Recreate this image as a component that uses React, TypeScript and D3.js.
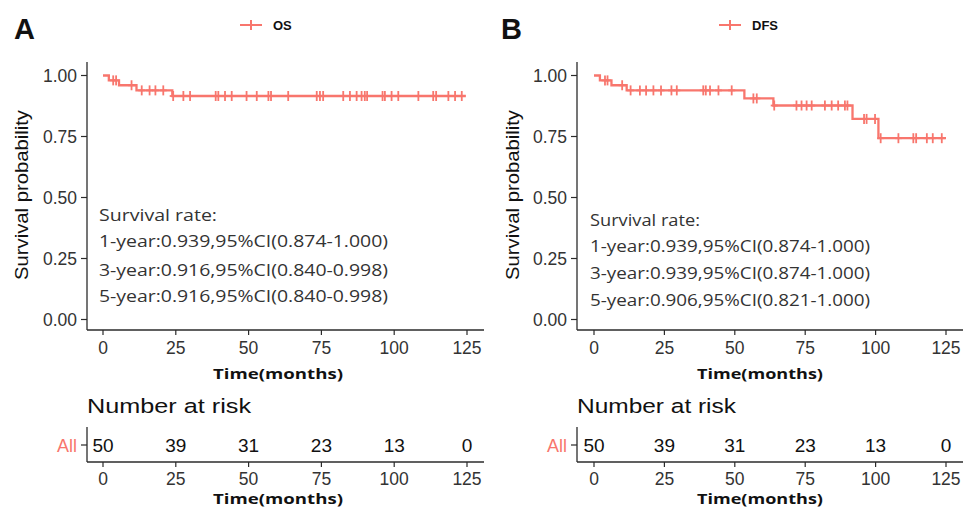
import React from "react";
import * as d3 from "d3";

// ---------- data ----------
const timeTicks = [0, 25, 50, 75, 100, 125];
const survTicks = [0, 0.25, 0.5, 0.75, 1];

const osEventTimes = [0, 2, 5.5, 11.5, 23.8];
const osSurvival = [1, 0.98, 0.96, 0.939, 0.916];
const osEndTime = 124.6;
const osCensorTimes = [
  3.5, 4.5, 9.8, 13.3, 16, 18, 20.7, 24.1, 27.6, 29.9, 38.7, 39.6, 41.9, 44.2, 49.3, 52.8,
  56.8, 57.7, 63.6, 73.4, 74.5, 75.6, 82.5, 84.8, 87.1, 88.8, 89.9, 90.7, 96, 96.8, 99.1,
  101.4, 108.3, 113.4, 114.4, 118.6, 120.9, 123.2,
];

const dfsEventTimes = [0, 2.1, 6.2, 11.6, 53.4, 63.7, 91.8, 101];
const dfsSurvival = [1, 0.98, 0.96, 0.939, 0.906, 0.877, 0.822, 0.743];
const dfsEndTime = 125;
const dfsCensorTimes = [
  3.9, 4.8, 10, 13, 16.3, 18.5, 21.1, 23.8, 27.5, 29.4, 38.8, 39.7, 41.2, 44.2, 48.9, 56.6,
  57.8, 64, 71.9, 73.7, 75.5, 77.3, 82, 84.4, 86.7, 89.1, 90, 95.9, 96.8, 99.8, 101.8, 108.1,
  113.4, 114.4, 118.2, 120.3, 123.5,
];

const riskTimes = [0, 25, 50, 75, 100, 125];
const osAtRisk = [50, 39, 31, 23, 13, 0];
const dfsAtRisk = [50, 39, 31, 23, 13, 0];

const osRateLines = [
  "Survival rate:",
  "1-year:0.939,95%CI(0.874-1.000)",
  "3-year:0.916,95%CI(0.840-0.998)",
  "5-year:0.916,95%CI(0.840-0.998)",
];
const dfsRateLines = [
  "Survival rate:",
  "1-year:0.939,95%CI(0.874-1.000)",
  "3-year:0.939,95%CI(0.874-1.000)",
  "5-year:0.906,95%CI(0.821-1.000)",
];

// ---------- styles ----------
const RED = "#F8766D";
const AXIS = "#2b2b2b";
const TXT = "#333333";
const SANS = "'Liberation Sans', Arial, sans-serif";
const SEGOE = "'Open Sans', 'Noto Sans', sans-serif";

type PanelProps = {
  letter: string;
  legend: string;
  eventTimes: number[];
  survival: number[];
  endTime: number;
  censorTimes: number[];
  atRisk: number[];
  rateLines: string[];
  L: {
    axisX: number;
    x0: number;
    x1: number;
    axisEnd: number;
    yTitleX: number;
    legendX: number;
    letterX: number;
    rateX: number;
    rateY: number[];
    rateLen: number[];
    xTitleX: number;
    xTitleLen: number;
    narLen: number;
  };
};

function Panel({ letter, legend, eventTimes, survival, endTime, censorTimes, atRisk, rateLines, L }: PanelProps) {
  const x = d3.scaleLinear().domain([0, 125]).range([L.x0, L.x1]);
  const y = d3.scaleLinear().domain([0, 1]).range([319.5, 75.5]);

  const pts: [number, number][] = eventTimes.map((t, i) => [t, survival[i]]);
  pts.push([endTime, survival[survival.length - 1]]);
  const line = d3
    .line<[number, number]>()
    .x((d) => x(d[0]))
    .y((d) => y(d[1]))
    .curve(d3.curveStepAfter);

  const survAt = (t: number) => {
    let s = survival[0];
    for (let i = 0; i < eventTimes.length; i++) if (eventTimes[i] <= t) s = survival[i];
    return s;
  };

  const axisBottom = 330;
  const riskAxisY = 462;
  const riskRowY = 445;

  return (
    <g>
      {/* panel letter */}
      <text x={L.letterX} y={39} fontFamily={SANS} fontWeight="bold" fontSize={29} fill="#111">
        {letter}
      </text>
      {/* legend */}
      <g>
        <line x1={L.legendX} x2={L.legendX + 22} y1={25} y2={25} stroke={RED} strokeWidth={2} />
        <line x1={L.legendX + 11} x2={L.legendX + 11} y1={20} y2={30} stroke={RED} strokeWidth={2} />
        <text x={L.legendX + 33} y={30} fontFamily={SANS} fontWeight="bold" fontSize={13} fill="#111">
          {legend}
        </text>
      </g>

      {/* y axis */}
      <line x1={L.axisX} x2={L.axisX} y1={62} y2={axisBottom} stroke={AXIS} strokeWidth={1.3} />
      {survTicks.map((v) => (
        <g key={v}>
          <line x1={L.axisX - 6} x2={L.axisX} y1={y(v)} y2={y(v)} stroke={AXIS} strokeWidth={1.2} />
          <text
            x={L.axisX - 10}
            y={y(v) + 6}
            textAnchor="end"
            fontFamily={SANS}
            fontSize={17.5}
            fill={TXT}
          >
            {v.toFixed(2)}
          </text>
        </g>
      ))}
      <text
        transform={`translate(${L.yTitleX},195) rotate(-90)`}
        textAnchor="middle"
        fontFamily={SANS}
        fontSize={18.5}
        fill="#111"
        textLength={170}
        lengthAdjust="spacingAndGlyphs"
      >
        Survival probability
      </text>

      {/* x axis */}
      <line x1={L.axisX} x2={L.axisEnd} y1={axisBottom} y2={axisBottom} stroke={AXIS} strokeWidth={1.3} />
      {timeTicks.map((t) => (
        <g key={t}>
          <line x1={x(t)} x2={x(t)} y1={axisBottom} y2={axisBottom + 5} stroke={AXIS} strokeWidth={1.2} />
          <text x={x(t)} y={354} textAnchor="middle" fontFamily={SANS} fontSize={17.5} fill={TXT}>
            {t}
          </text>
        </g>
      ))}
      <text
        x={L.xTitleX}
        y={378.5}
        textAnchor="middle"
        fontFamily={SEGOE}
        fontWeight="bold"
        fontSize={15}
        fill="#111"
        textLength={L.xTitleLen}
        lengthAdjust="spacingAndGlyphs"
      >
        Time(months)
      </text>

      {/* curve */}
      <path d={line(pts) || ""} fill="none" stroke={RED} strokeWidth={2.3} />
      {censorTimes.map((t, i) => (
        <g key={i} stroke={RED} strokeWidth={1.8}>
          <line x1={x(t)} x2={x(t)} y1={y(survAt(t)) - 5} y2={y(survAt(t)) + 5} />
          <line x1={x(t) - 3.5} x2={x(t) + 3.5} y1={y(survAt(t))} y2={y(survAt(t))} />
        </g>
      ))}

      {/* survival rate annotation */}
      {rateLines.map((s, i) => (
        <text
          key={i}
          x={L.rateX}
          y={L.rateY[i]}
          fontFamily={SEGOE}
          fontSize={16}
          fill={TXT}
          textLength={L.rateLen[i]}
          lengthAdjust="spacingAndGlyphs"
        >
          {s}
        </text>
      ))}

      {/* risk table */}
      <text
        x={L.axisX}
        y={413}
        fontFamily={SANS}
        fontSize={20.5}
        fill="#111"
        textLength={L.narLen}
        lengthAdjust="spacingAndGlyphs"
      >
        Number at risk
      </text>
      <line x1={L.axisX} x2={L.axisX} y1={427} y2={riskAxisY} stroke={AXIS} strokeWidth={1.3} />
      <line x1={L.axisX} x2={L.axisEnd} y1={riskAxisY} y2={riskAxisY} stroke={AXIS} strokeWidth={1.3} />
      <line x1={L.axisX - 6} x2={L.axisX} y1={riskRowY} y2={riskRowY} stroke={AXIS} strokeWidth={1.2} />
      <text x={L.axisX - 10} y={riskRowY + 6.5} textAnchor="end" fontFamily={SANS} fontSize={18} fill={RED}>
        All
      </text>
      {riskTimes.map((t, i) => (
        <text
          key={t}
          x={x(t)}
          y={riskRowY + 7}
          textAnchor="middle"
          fontFamily={SANS}
          fontSize={19}
          fill="#111"
        >
          {atRisk[i]}
        </text>
      ))}
      {timeTicks.map((t) => (
        <g key={t}>
          <line x1={x(t)} x2={x(t)} y1={riskAxisY} y2={riskAxisY + 5} stroke={AXIS} strokeWidth={1.2} />
          <text x={x(t)} y={485} textAnchor="middle" fontFamily={SANS} fontSize={17.5} fill={TXT}>
            {t}
          </text>
        </g>
      ))}
      <text
        x={L.xTitleX}
        y={504}
        textAnchor="middle"
        fontFamily={SEGOE}
        fontWeight="bold"
        fontSize={15}
        fill="#111"
        textLength={L.xTitleLen}
        lengthAdjust="spacingAndGlyphs"
      >
        Time(months)
      </text>
    </g>
  );
}

export default function App() {
  return (
    <svg
      width={963}
      height={508}
      viewBox="0 0 963 508"
      style={{ position: "absolute", left: 0, top: 0, background: "#fff" }}
    >
      <rect x={0} y={0} width={963} height={508} fill="#fff" />
      <Panel
        letter="A"
        legend="OS"
        eventTimes={osEventTimes}
        survival={osSurvival}
        endTime={osEndTime}
        censorTimes={osCensorTimes}
        atRisk={osAtRisk}
        rateLines={osRateLines}
        L={{
          axisX: 87,
          x0: 103,
          x1: 467,
          axisEnd: 484,
          yTitleX: 28,
          legendX: 240,
          letterX: 14,
          rateX: 99,
          rateY: [220.5, 247, 275.5, 302],
          rateLen: [118, 289, 289, 289],
          xTitleX: 278,
          xTitleLen: 130,
          narLen: 164,
        }}
      />
      <Panel
        letter="B"
        legend="DFS"
        eventTimes={dfsEventTimes}
        survival={dfsSurvival}
        endTime={dfsEndTime}
        censorTimes={dfsCensorTimes}
        atRisk={dfsAtRisk}
        rateLines={dfsRateLines}
        L={{
          axisX: 577,
          x0: 594,
          x1: 946,
          axisEnd: 963,
          yTitleX: 519,
          legendX: 719,
          letterX: 501,
          rateX: 590,
          rateY: [225.5, 252, 278.5, 305.5],
          rateLen: [110, 280, 280, 280],
          xTitleX: 760,
          xTitleLen: 126,
          narLen: 159,
        }}
      />
    </svg>
  );
}
